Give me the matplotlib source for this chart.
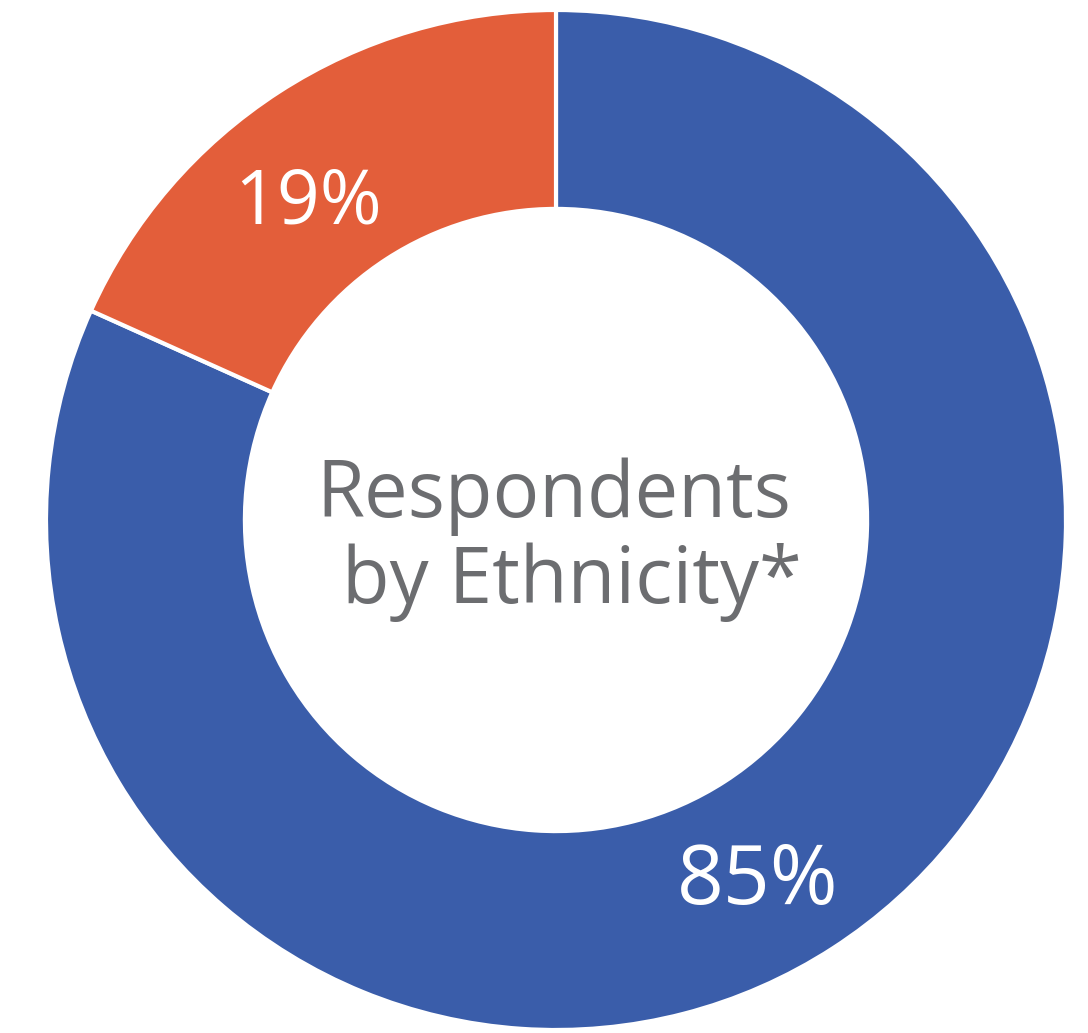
import matplotlib.pyplot as plt

groups = ["Group A", "Group B"]
values = [85, 19]
labels = ["85%", "19%"]
colors = ["#3A5DAA", "#E35E3A"]

W, H = 1088, 1033
fig = plt.figure(figsize=(W / 100, H / 100), dpi=100)
# circle spans x 46..1066 px, y 10..1030 px
ax = fig.add_axes([46 / W, 3 / H, 1020 / W, 1020 / H])

wedges, _ = ax.pie(values, colors=colors, startangle=90, counterclock=False,
                   radius=1.0, wedgeprops=dict(width=0.39, edgecolor="white", linewidth=3))
ax.set_xlim(-1, 1)
ax.set_ylim(-1, 1)
ax.set_aspect("equal")
ax.axis("off")

font = ["Open Sans", "DejaVu Sans"]
label_pos = [(0.395, -0.712), (-0.486, 0.62)]
sizes = [59, 54]
for (x, y), txt, s in zip(label_pos, labels, sizes):
    ax.text(x, y, txt, ha="center", va="center", color="white",
            fontsize=s, family=font)

ax.text(-0.004, 0.006, "Respondents", ha="center", va="baseline",
        color="#6C6D70", fontsize=56, family=font)
ax.text(0.031, -0.163, "by Ethnicity*", ha="center", va="baseline",
        color="#6C6D70", fontsize=56, family=font)

fig.savefig("out.png", dpi=100, facecolor="white")
